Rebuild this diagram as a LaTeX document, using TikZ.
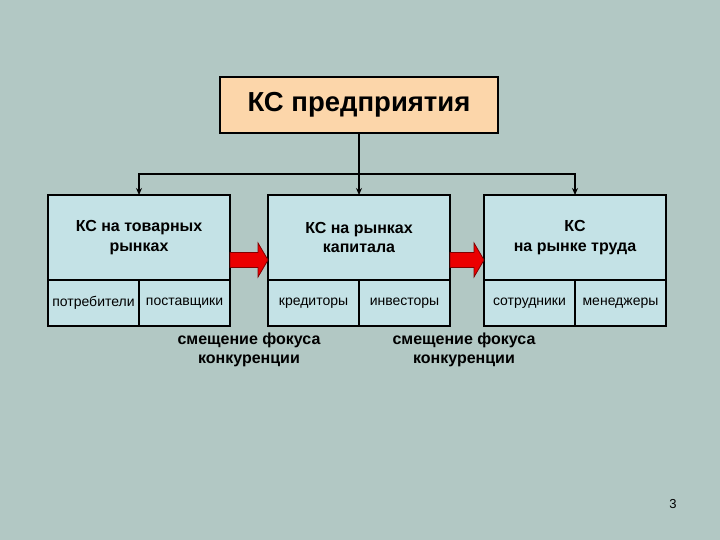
\documentclass[tikz,border=0pt]{standalone}
\usepackage{fontspec}
\setmainfont{Liberation Sans}
\usetikzlibrary{arrows.meta,positioning,calc}
\definecolor{slidebg}{RGB}{178,200,196}
\definecolor{boxblue}{RGB}{196,226,230}
\definecolor{peach}{RGB}{252,214,170}
\definecolor{arrowred}{RGB}{235,0,0}

\begin{document}
\begin{tikzpicture}[x=1pt, y=1pt, >={Stealth[length=7pt,width=6pt]},
  every node/.style={align=center, outer sep=0pt},
  marketbox/.style={rectangle, draw, line width=1.5pt, fill=boxblue, minimum width=182pt, minimum height=85pt, font=\fontsize{16}{19.5}\selectfont\bfseries},
  subbox/.style={rectangle, draw, line width=1.5pt, fill=boxblue, minimum width=91pt, minimum height=46pt, font=\fontsize{14}{16}\selectfont},
  shiftnote/.style={font=\fontsize{16}{19}\selectfont\bfseries}]
  \fill[slidebg] (0,0) rectangle (720,540);
  \useasboundingbox (0,0) rectangle (720,540);

  \node (tovar) [marketbox] at (139,302.5) {КС на товарных\\рынках};
  \node (kapital) [marketbox, right=38pt of tovar] {КС на рынках\\капитала};
  \node (trud) [marketbox, right=34pt of kapital] {КС\\на рынке труда};
  \node (firm) [rectangle, draw, line width=1.5pt, fill=peach, minimum width=278pt, minimum height=56pt, font=\fontsize{27.5}{32}\selectfont\bfseries, above=62pt of kapital] {КС предприятия};

  \node (potreb) [subbox, below right=0pt of tovar.south west] {потребители};
  \node (postav) [subbox, right=0pt of potreb] {поставщики};
  \node (kredit) [subbox, below right=0pt of kapital.south west] {кредиторы};
  \node (invest) [subbox, right=0pt of kredit] {инвесторы};
  \node (sotrud) [subbox, below right=0pt of trud.south west] {сотрудники};
  \node (menedzh) [subbox, right=0pt of sotrud] {менеджеры};

  \draw[line width=1.5pt] (firm.south) -- ++(0,-41) coordinate (bus);
  \draw[->, line width=1.5pt] (bus) -- (kapital.north);
  \draw[->, line width=1.5pt] (bus) -| (tovar.north);
  \draw[->, line width=1.5pt] (bus) -| (trud.north);

  \foreach \a/\b in {tovar/kapital, kapital/trud}
    \filldraw[fill=arrowred, draw=arrowred!55!black, line width=0.8pt]
      let \p1=($(\a.south east)+(0,20)$), \p2=($(\b.south west)+(0,20)$) in
      (\x1,\y1+7.5pt) -- (\x2-10pt,\y1+7.5pt) -- (\x2-10pt,\y1+17pt) -- (\x2,\y1)
      -- (\x2-10pt,\y1-17pt) -- (\x2-10pt,\y1-7.5pt) -- (\x1,\y1-7.5pt) -- cycle;

  \node (shift1) [shiftnote] at (249,190) {смещение фокуса\\конкуренции};
  \node (shift2) [shiftnote] at (464,190) {смещение фокуса\\конкуренции};
  \node (pagenum) [font=\fontsize{13}{15}\selectfont] at (673,36) {3};
\end{tikzpicture}
\end{document}
